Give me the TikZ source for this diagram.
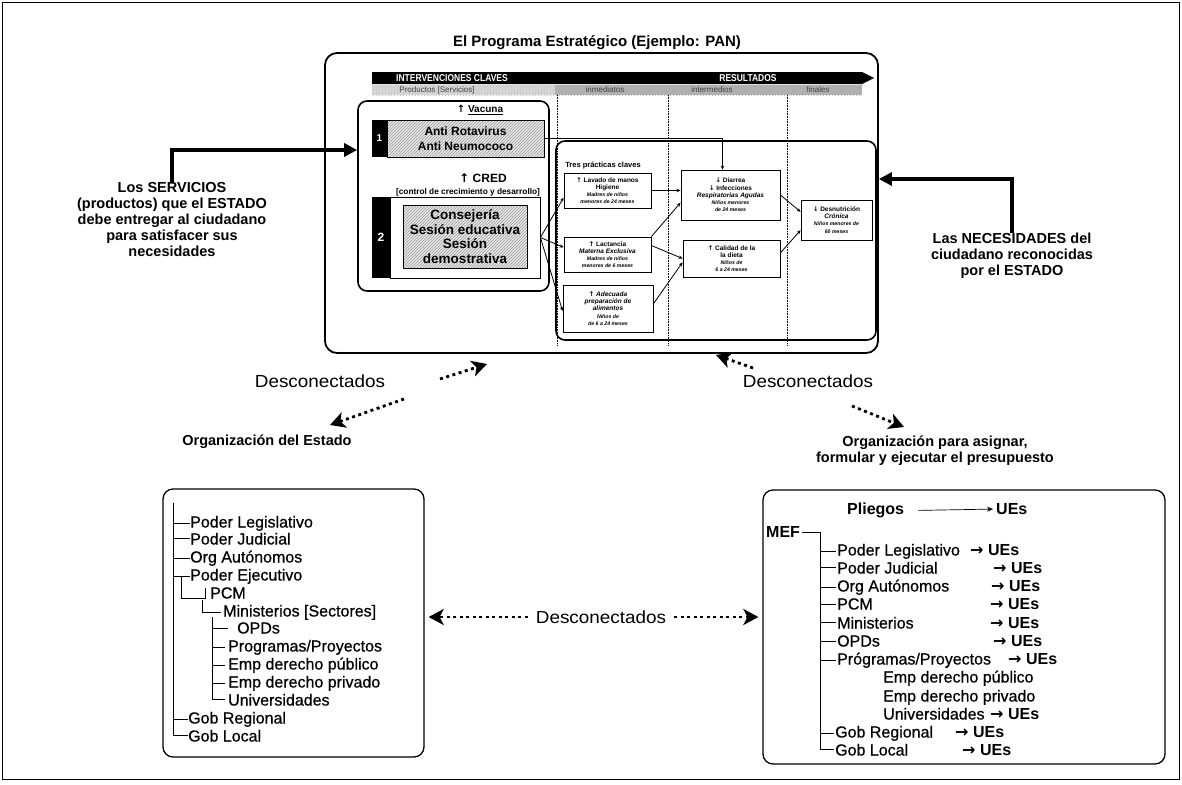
\documentclass[tikz,border=0pt]{standalone}
\usepackage{fontspec}
\setmainfont{Liberation Sans}
\newfontfamily\arrowfont{DejaVu Sans}
\newfontfamily\medfont[FakeBold=0.6]{Liberation Sans}
\usetikzlibrary{arrows.meta,patterns,calc}

\newcommand{\arrUp}{{\arrowfont ↑}}
\newcommand{\arrDn}{{\arrowfont ↓}}
\newcommand{\arrRt}{{\arrowfont\bfseries →}}
\newcommand{\smalline}{\fontsize{5.2}{6.2}\selectfont\bfseries\itshape}

\begin{document}
\begin{tikzpicture}[x=1pt,y=-1pt,
  every node/.style={inner sep=0pt},
  bigbox/.style={draw, line width=1.8pt, rounded corners=12pt},
  innerbox/.style={draw, line width=1.6pt, rounded corners=9pt},
  hatch/.style={draw, line width=0.6pt, preaction={fill=gray!18},
    pattern=north east lines, pattern color=gray!80},
  blackcell/.style={fill=black, text=white},
  hdr/.style={text=white, font=\bfseries\fontsize{10}{11}\selectfont},
  band/.style={text=black!75, font=\fontsize{8}{9}\selectfont},
  smallbox/.style={draw, line width=0.9pt, fill=white, align=center,
    font=\bfseries\fontsize{6.5}{7.2}\selectfont},
  link/.style={line width=0.8pt, -{Stealth[length=4pt,width=3.5pt]}},
  heavy/.style={line width=3.6pt, -{Triangle[length=13pt,width=13pt]}},
  dis/.style={line width=2.8pt, line cap=butt, dash pattern=on 3pt off 3.5pt,
    -{Stealth[length=15pt,width=16pt,inset=4pt]}},
  caption/.style={font=\bfseries\fontsize{14.5}{16}\selectfont, align=center},
  discon/.style={font=\fontsize{17.5}{20}\selectfont},
  treetxt/.style={anchor=base west, font=\medfont\fontsize{16}{18}\selectfont},
  treebold/.style={anchor=base west, font=\bfseries\fontsize{16}{18}\selectfont},
  treeline/.style={line width=0.7pt},
  sepline/.style={densely dotted, line width=0.6pt},
]
\useasboundingbox (0,0) rectangle (1182,784);
\draw[line width=0.8pt] (2,2) rectangle (1179,779);

% ---------- strategic programme ----------
\node[font=\bfseries\fontsize{15}{17}\selectfont] (title) at (597,43)
  {El Programa Estratégico (Ejemplo: PAN)};
\node[bigbox, minimum width=553pt, minimum height=300pt] (pan) at (601.5,203) {};

% header arrow and bands
\fill (372,72) -- (862,72) -- (874,78) -- (862,84) -- (372,84) -- cycle;
\node[hdr] (hint) at (452,78) {\scalebox{0.85}[1]{INTERVENCIONES CLAVES}};
\node[hdr] (hres) at (748,78) {\scalebox{0.85}[1]{RESULTADOS}};
\fill[gray!30] (372,85) rectangle (555,95);
\fill[gray!62] (555,85) rectangle (862,95);
\fill[pattern=crosshatch dots, pattern color=gray!60] (372,85) rectangle (862,95);
\node[band] (bprod) at (437,90) {Productos [Servicios]};
\node[band] (binm) at (605,90) {inmediatos};
\node[band] (bint) at (712,90) {intermedios};
\node[band] (bfin) at (818,90) {finales};
\draw[sepline] (557,95) -- (557,345);
\draw[sepline] (668,95) -- (668,345);
\draw[sepline] (787,95) -- (787,345);

% products
\node[innerbox, minimum width=191pt, minimum height=190pt] (prod) at (453.5,196) {};
\node[font=\bfseries\fontsize{10}{11}\selectfont] (vac) at (480,110) {\arrUp\ \underline{Vacuna}};
\node[blackcell, font=\bfseries\fontsize{10}{11}\selectfont,
  minimum width=15pt, minimum height=37pt] (one) at (379.5,138.5) {1};
\node[hatch, minimum width=157pt, minimum height=37pt, align=center,
  font=\bfseries\fontsize{12}{14.5}\selectfont] (vacs) at (465.5,138.5)
  {Anti Rotavirus\\Anti Neumococo};
\node[font=\bfseries\fontsize{12}{13}\selectfont] (cred) at (483,178) {\arrUp\ CRED};
\node[font=\bfseries\fontsize{8.3}{9}\selectfont] (credsub) at (468,192)
  {[control de crecimiento y desarrollo]};
\node[blackcell, font=\bfseries\fontsize{12}{13}\selectfont,
  minimum width=18pt, minimum height=81pt] (two) at (381,237.5) {2};
\node[draw, line width=0.8pt, minimum width=150pt, minimum height=81pt] (credframe) at (465,237.5) {};
\node[hatch, minimum width=124pt, minimum height=63pt, align=center,
  font=\bfseries\fontsize{13.5}{14.7}\selectfont] (creds) at (465,236.5)
  {Consejería\\Sesión educativa\\Sesión\\demostrativa};

% results
\node[innerbox, minimum width=320pt, minimum height=199pt] (res) at (716,240.5) {};
\node[font=\bfseries\fontsize{7.5}{8}\selectfont] (tres) at (603,166) {Tres prácticas claves};
\node[smallbox, minimum width=87pt, minimum height=35pt] (lav) at (607.5,190.5)
  {\arrUp\ Lavado de manos\\Higiene\\{\smalline Madres de niños}\\{\smalline menores de 24 meses}};
\node[smallbox, minimum width=87pt, minimum height=35pt] (lac) at (607.5,254.5)
  {\arrUp\ Lactancia\\{\itshape Materna Exclusiva}\\{\smalline Madres de niños}\\{\smalline menores de 6 meses}};
\node[smallbox, minimum width=90pt, minimum height=47pt] (ali) at (608,308.5)
  {\arrUp\ {\itshape Adecuada}\\{\itshape preparación de}\\{\itshape alimentos}\\{\smalline Niños de}\\{\smalline de 6 a 24 meses}};
\node[smallbox, minimum width=99pt, minimum height=50pt] (dia) at (730.5,195)
  {\arrDn\ Diarrea\\\arrDn\ Infecciones\\{\itshape Respiratorias Agudas}\\{\smalline Niños menores}\\{\smalline de 24 meses}};
\node[smallbox, minimum width=97pt, minimum height=37pt] (cal) at (731.5,258.5)
  {\arrUp\ Calidad de la\\la dieta\\{\smalline Niños de}\\{\smalline 6 a 24 meses}};
\node[smallbox, minimum width=71pt, minimum height=40pt] (des) at (836.5,220)
  {\arrDn\ Desnutrición\\{\itshape Crónica}\\{\smalline Niños menores de}\\{\smalline 60 meses}};

\draw[link] (vacs.east) -| ([xshift=-8pt]dia.north);
\draw[link] (lav.east) -- (lav.east -| dia.west);
\draw[link] (lac.north east) -- ($(dia.north west)!0.65!(dia.south west)$);
\draw[link] ($(lac.north east)!0.25!(lac.south east)$) -- (cal.west);
\draw[link] ($(ali.north east)!0.4!(ali.south east)$) -- ($(cal.north west)!0.6!(cal.south west)$);
\draw[link] (dia.east) -- ($(des.north west)!0.3!(des.south west)$);
\draw[link] ($(cal.north east)!0.35!(cal.south east)$) -- ($(des.north west)!0.75!(des.south west)$);
\draw[link] (credframe.east) -- ($(lav.north west)!0.7!(lav.south west)$);
\draw[link] (credframe.east) -- ($(lac.north west)!0.3!(lac.south west)$);
\draw[link] (credframe.east) -- ($(ali.north west)!0.55!(ali.south west)$);

% side captions
\node[caption] (serv) at (172,220)
  {Los SERVICIOS\\(productos) que el ESTADO\\debe entregar al ciudadano\\para satisfacer sus\\necesidades};
\draw[heavy] (serv.north) |- ([yshift=46pt]prod.west);
\node[caption] (need) at (1012,256)
  {Las NECESIDADES del\\ciudadano reconocidas\\por el ESTADO};
\draw[heavy] (need.north) |- ([yshift=24pt]pan.east);

% ---------- disconnection marks ----------
\node[discon] (d1) at (320,381) {\scalebox{1.08}[1]{Desconectados}};
\node[discon] (d2) at (808,381) {\scalebox{1.08}[1]{Desconectados}};
\node[discon] (d3) at (601,617) {\scalebox{1.08}[1]{Desconectados}};
\coordinate (d1a) at (440,379);
\coordinate (d1b) at (487,364);
\coordinate (d1c) at (404,399);
\coordinate (d1d) at (330,425);
\coordinate (d2a) at (753,368);
\coordinate (d2b) at (716,355);
\coordinate (d2c) at (852,406);
\coordinate (d2d) at (904,427);
\draw[dis] (d1a) -- (d1b);
\draw[dis] (d1c) -- (d1d);
\draw[dis] (d2a) -- (d2b);
\draw[dis] (d2c) -- (d2d);

% ---------- organisation of the state ----------
\node[caption] (orgh) at (267,442) {Organización del Estado};
\node[draw, line width=1.3pt, rounded corners=10pt, minimum width=261pt,
  minimum height=268pt] (org) at (293.5,623) {};
\draw[dis] ([xshift=-8pt]d3.west) -- ($(d3.west -| org.east)+(4,0)$);

\node[treetxt] (lleg) at (190,527.5) {Poder Legislativo};
\node[treetxt] (ljud) at (190,544.5) {Poder Judicial};
\node[treetxt] (laut) at (190,562.5) {Org Autónomos};
\node[treetxt] (lejec) at (190,580.5) {Poder Ejecutivo};
\node[treetxt] (lpcm) at (210,598.5) {PCM};
\node[treetxt] (lmin) at (223,616.5) {Ministerios [Sectores]};
\node[treetxt] (lopd) at (237,633.5) {OPDs};
\node[treetxt] (lprog) at (228,651.5) {Programas/Proyectos};
\node[treetxt] (lpub) at (228,669.5) {Emp derecho público};
\node[treetxt] (lpriv) at (228,687.5) {Emp derecho privado};
\node[treetxt] (luni) at (228,705.5) {Universidades};
\node[treetxt] (lgr) at (188,723.5) {Gob Regional};
\node[treetxt] (lgl) at (188,741.5) {Gob Local};

\coordinate (ltop) at (173,503);
\draw[treeline] (ltop) |- (lgl.west);
\foreach \n in {lleg,ljud,laut,lejec,lgr}
  \draw[treeline] (\n.west -| ltop) -- (\n.west);
\coordinate (pe1) at (181,576);
\coordinate (pe2) at (205,588);
\draw[treeline] (pe1) |- (pe2 |- 0,598) -- (pe2);
\coordinate (pc1) at (202,600);
\draw[treeline] (pc1) |- ($(lmin.west)+(-2,0)$);
\coordinate (mi1) at (212,617);
\draw[treeline] (mi1) |- ($(luni.west)+(-3,0)$);
\foreach \n in {lprog,lpub,lpriv}
  \draw[treeline] (\n.west -| mi1) -- ($(\n.west)+(-3,0)$);
\draw[treeline] (lopd.west -| mi1) -- ($(lopd.west)+(-9,0)$);

% ---------- budget organisation ----------
\node[caption] (presh) at (935,451)
  {Organización para asignar,\\formular y ejecutar el presupuesto};
\node[draw, line width=1.3pt, rounded corners=10pt, minimum width=402pt,
  minimum height=274pt] (pres) at (964,627) {};
\draw[dis] ([xshift=8pt]d3.east) -- ($(d3.east -| pres.west)+(-4,0)$);

\node[treebold] (plie) at (847,514.5) {Pliegos};
\node[treebold] (plue) at (996,514.5) {UEs};
\draw[line width=0.7pt, -{Stealth[length=6pt,width=5pt]}] ([xshift=14pt]plie.east) -- ([xshift=-3pt]plue.west);
\node[treebold] (mef) at (766,537.5) {MEF};

\node[treetxt] (rleg) at (837,555.5) {Poder Legislativo};
\node[treetxt] (rjud) at (837,573.5) {Poder Judicial};
\node[treetxt] (raut) at (837,591.5) {Org Autónomos};
\node[treetxt] (rpcm) at (837,609.5) {PCM};
\node[treetxt] (rmin) at (837,628.5) {Ministerios};
\node[treetxt] (ropd) at (837,646.5) {OPDs};
\node[treetxt] (rprog) at (837,664.5) {Prógramas/Proyectos};
\node[treetxt] (rpub) at (883,682.5) {Emp derecho público};
\node[treetxt] (rpriv) at (883,701.5) {Emp derecho privado};
\node[treetxt] (runi) at (883,719.5) {Universidades};
\node[treetxt] (rgr) at (835,737.5) {Gob Regional};
\node[treetxt] (rgl) at (835,755.5) {Gob Local};

\node[treebold] (ulg) at (970,555.5) {\arrRt\ UEs};
\node[treebold] (ujd) at (993,573.5) {\arrRt\ UEs};
\node[treebold] (uat) at (991,591.5) {\arrRt\ UEs};
\node[treebold] (upc) at (990,609.5) {\arrRt\ UEs};
\node[treebold] (umn) at (990,628.5) {\arrRt\ UEs};
\node[treebold] (uop) at (993,646.5) {\arrRt\ UEs};
\node[treebold] (upr) at (1008,664.5) {\arrRt\ UEs};
\node[treebold] (uun) at (990,719.5) {\arrRt\ UEs};
\node[treebold] (ugr) at (955,737.5) {\arrRt\ UEs};
\node[treebold] (ugl) at (962,755.5) {\arrRt\ UEs};

\coordinate (rtop) at (820,532);
\draw[treeline] ([xshift=2pt]mef.east) -- (mef.east -| rtop) |- ($(rgl.west)+(-1,0)$);
\foreach \n in {rleg,rjud,raut,rpcm,rmin,ropd,rprog,rgr}
  \draw[treeline] (\n.west -| rtop) -- ($(\n.west)+(-1,0)$);
\end{tikzpicture}
\end{document}
